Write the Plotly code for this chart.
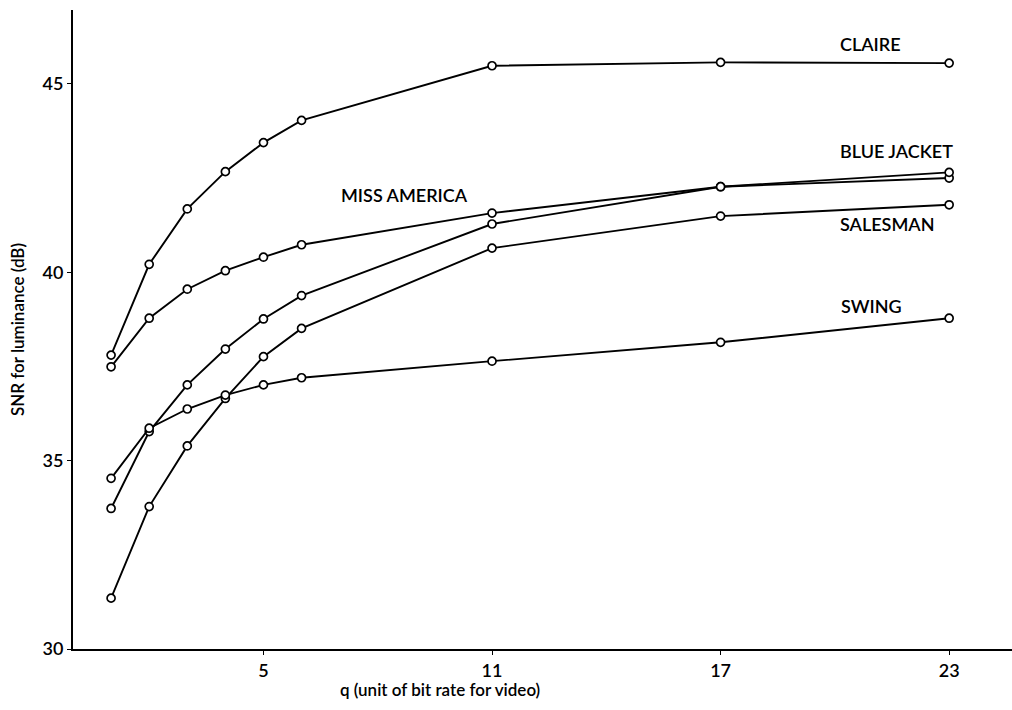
import plotly.graph_objects as go

q = [1, 2, 3, 4, 5, 6, 11, 17, 23]

claire = [37.80, 40.21, 41.68, 42.67, 43.44, 44.03, 45.48, 45.57, 45.55]
miss_america = [37.49, 38.78, 39.55, 40.04, 40.40, 40.73, 41.57, 42.27, 42.50]
blue_jacket = [33.73, 35.77, 37.01, 37.96, 38.76, 39.38, 41.28, 42.27, 42.65]
salesman = [31.35, 33.78, 35.39, 36.65, 37.76, 38.51, 40.64, 41.49, 41.79]
swing = [34.53, 35.86, 36.37, 36.74, 37.01, 37.20, 37.64, 38.14, 38.78]

series = [
    ("CLAIRE", claire),
    ("MISS AMERICA", miss_america),
    ("BLUE JACKET", blue_jacket),
    ("SALESMAN", salesman),
    ("SWING", swing),
]

# label anchor positions (data coords)
labels = [
    ("CLAIRE", 20.07, 46.06),
    ("BLUE JACKET", 20.07, 43.22),
    ("MISS AMERICA", 6.98, 42.05),
    ("SALESMAN", 20.07, 41.28),
    ("SWING", 20.10, 39.1),
]

x_ticks = [5, 11, 17, 23]
y_ticks = [30, 35, 40, 45]

FONT = "Lato"

fig = go.Figure()
for name, ys in series:
    fig.add_trace(go.Scatter(
        x=q, y=ys, mode="lines+markers", name=name,
        line=dict(color="black", width=1.9),
        marker=dict(symbol="circle", size=8, color="white",
                    line=dict(color="black", width=1.7)),
        showlegend=False,
    ))

annotations = []
for text, lx, ly in labels:
    annotations.append(dict(x=lx, y=ly, xref="x", yref="y", text=text,
                            showarrow=False, xanchor="left", yanchor="middle",
                            font=dict(family=FONT, size=18, color="black", weight=600)))
annotations.append(dict(x=0.391, y=-0.064, xref="paper", yref="paper",
                        text="q (unit of bit rate for video)", showarrow=False,
                        xanchor="center", yanchor="middle",
                        font=dict(family=FONT, size=17, color="black", weight=600)))
annotations.append(dict(x=-0.059, y=0.50, xref="paper", yref="paper",
                        text="SNR for luminance (dB)", showarrow=False,
                        textangle=-90, xanchor="center", yanchor="middle",
                        font=dict(family=FONT, size=17, color="black", weight=600)))

tickfont = dict(family=FONT, size=18, color="black", weight=600)

fig.update_layout(
    width=1012, height=710,
    margin=dict(l=73, r=0, t=10, b=61),
    plot_bgcolor="white", paper_bgcolor="white",
    annotations=annotations,
    font=dict(family=FONT, color="black"),
    xaxis=dict(range=[0, 24.65], tickvals=x_ticks, ticktext=[str(v) for v in x_ticks],
               showgrid=False, zeroline=False, showline=True, linecolor="black",
               linewidth=2, ticks="outside", ticklen=4, tickcolor="black",
               tickfont=tickfont),
    yaxis=dict(range=[30, 46.96], tickvals=y_ticks, ticktext=[str(v) for v in y_ticks],
               showgrid=False, zeroline=False, showline=True, linecolor="black",
               linewidth=2, ticks="outside", ticklen=4, tickcolor="black",
               tickfont=tickfont),
)

fig.write_html("out.html")
